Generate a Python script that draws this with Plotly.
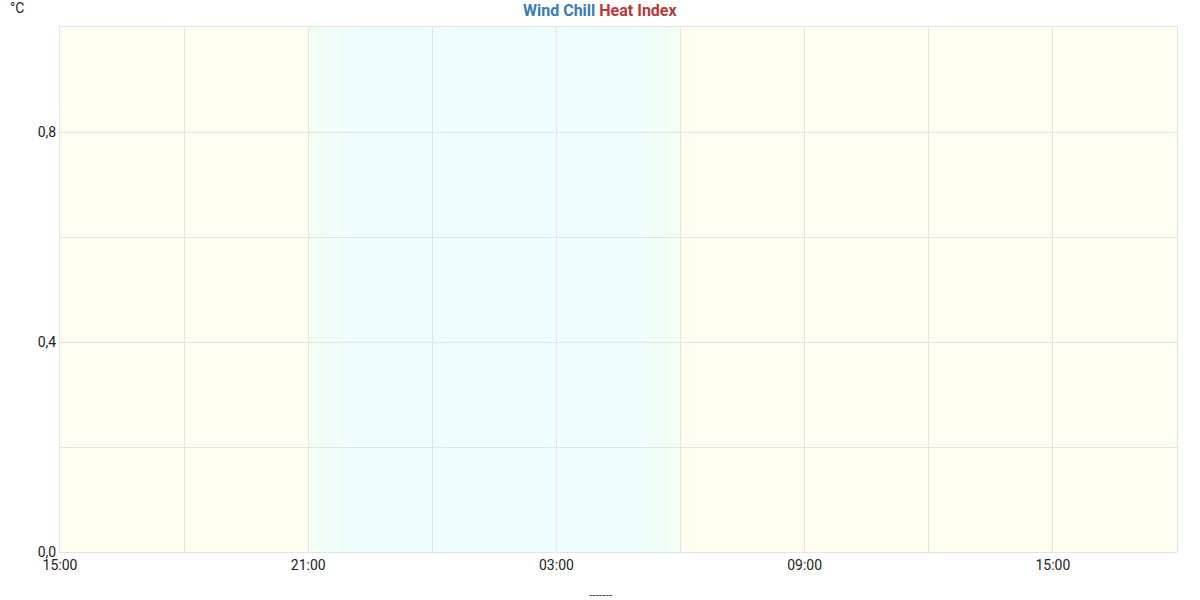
import plotly.graph_objects as go
from datetime import datetime, timedelta

# ---- data (the chart has no data points) ----
wind_chill_x = []
wind_chill_y = []
heat_index_x = []
heat_index_y = []

x_start = "2024-01-01 15:00"
x_end = "2024-01-02 18:00"
night_start = "2024-01-01 21:00"
night_full = "2024-01-01 22:00"
dawn_start = "2024-01-02 05:00"
day_start = "2024-01-02 06:00"

y_range = [0, 1]

# ---- colours ----
DAY = (255, 254, 240)
TWILIGHT = (240, 255, 240)
NIGHT = (238, 253, 253)


def rgb(c):
    return "rgb(%d,%d,%d)" % c


def mix(a, b, t):
    return tuple(round(a[i] + (b[i] - a[i]) * t) for i in range(3))


def dt(s):
    return datetime.strptime(s, "%Y-%m-%d %H:%M")


shapes = []


def band(x0, x1, color):
    shapes.append(dict(type="rect", xref="x", yref="y", x0=x0, x1=x1,
                       y0=y_range[0], y1=y_range[1], fillcolor=rgb(color),
                       line=dict(width=0), layer="below"))


band(dt(x_start), dt(night_start), DAY)
n = 30
a, b = dt(night_start), dt(night_full)
step = (b - a) / n
for i in range(n):
    band(a + step * i, a + step * (i + 1) + timedelta(seconds=20), mix(TWILIGHT, NIGHT, (i + 0.5) / n))
band(dt(night_full), dt(dawn_start), NIGHT)
a, b = dt(dawn_start), dt(day_start)
step = (b - a) / n
for i in range(n):
    band(a + step * i, a + step * (i + 1) + timedelta(seconds=20), mix(NIGHT, TWILIGHT, (i + 0.5) / n))
band(dt(day_start), dt(x_end), DAY)

fig = go.Figure()
fig.add_trace(go.Scatter(x=wind_chill_x, y=wind_chill_y, name="Wind Chill",
                         mode="lines", line=dict(color="#3a7bb8"), showlegend=False))
fig.add_trace(go.Scatter(x=heat_index_x, y=heat_index_y, name="Heat Index",
                         mode="lines", line=dict(color="#b8393a"), showlegend=False))

GRID = "#e4e4e4"
fig.update_layout(
    width=1200, height=600,
    margin=dict(l=60, r=23, t=27, b=48, autoexpand=False),
    paper_bgcolor="white", plot_bgcolor="white",
    font=dict(family="Roboto", size=14, color="#222"),
    separators=", ",
    shapes=shapes,
    annotations=[
        dict(text="<b><span style='color:#3a7bb8'>Wind Chill</span> <span style='color:#b8393a'>Heat Index</span></b>",
             xref="paper", yref="paper", x=0.5, y=1, xanchor="center", yanchor="middle",
             xshift=-18, yshift=17, showarrow=False, font=dict(size=16)),
        dict(text="°C", xref="paper", yref="paper", x=0, y=1,
             xanchor="center", yanchor="middle", showarrow=False,
             font=dict(size=14, color="#222"), xshift=-43, yshift=19),
        dict(text="-------", xref="paper", yref="paper", x=0.5, y=0,
             xanchor="center", yanchor="middle", showarrow=False,
             font=dict(size=12, color="#555"), xshift=-18, yshift=-43),
    ],
)
fig.update_xaxes(
    type="date", range=[x_start, x_end], automargin=False,
    dtick=6 * 3600 * 1000, tick0=x_start, tickformat="%H:%M",
    showgrid=True, gridcolor=GRID, gridwidth=1,
    minor=dict(dtick=3 * 3600 * 1000, showgrid=True, gridcolor=GRID, gridwidth=1),
    showline=True, linecolor=GRID, mirror=True, ticks="",
    zeroline=False, ticklabelstandoff=0,
)
fig.update_yaxes(
    range=y_range, dtick=0.4, tick0=0, tickformat=".1f", automargin=False,
    showgrid=True, gridcolor=GRID, gridwidth=1,
    minor=dict(dtick=0.2, showgrid=True, gridcolor=GRID, gridwidth=1),
    showline=True, linecolor=GRID, mirror=True, ticks="", zeroline=False,
    ticklabelstandoff=0,
)

fig.write_html("out.html", config={"displayModeBar": False},
               post_script="document.body.style.margin='0px';")
